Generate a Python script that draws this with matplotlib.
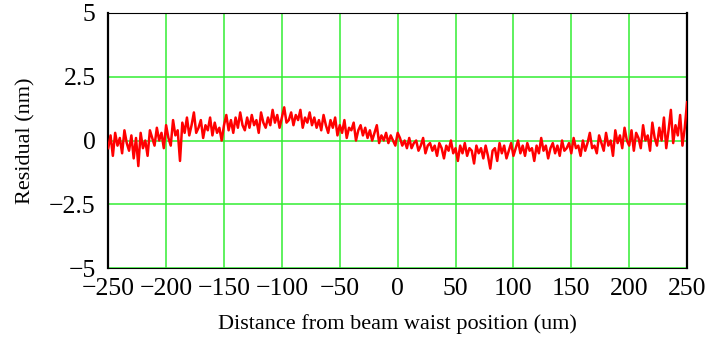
import matplotlib
matplotlib.use("Agg")
import matplotlib.pyplot as plt
import numpy as np

# Residual trace, one reading every 2 um from -250 to 250 um
position_um = np.arange(-250, 251, 2)
residual_nm = [
    -0.3, 0.2, -0.6, 0.3, -0.2, 0.1, -0.5, 0.4, -0.1, -0.4,
    0.2, -0.7, 0.1, -1.0, 0.3, -0.3, 0.0, -0.6, 0.4, 0.1,
    -0.2, 0.5, 0.0, 0.3, -0.3, 0.6, 0.1, -0.2, 0.8, 0.2,
    0.4, -0.8, 0.7, 0.3, 0.9, 0.2, 0.6, 1.1, 0.3, 0.5,
    0.8, 0.1, 0.6, 0.4, 0.9, 0.2, 0.7, 0.3, 0.5, 0.0,
    0.6, 1.0, 0.4, 0.8, 0.3, 0.9, 0.5, 1.1, 0.6, 0.4,
    0.9, 0.5, 1.0, 0.6, 0.8, 0.3, 1.1, 0.7, 0.5, 0.9,
    0.6, 1.2, 0.7, 1.0, 0.5, 0.9, 1.3, 0.7, 0.8, 1.1,
    0.6, 1.0, 0.8, 1.2, 0.5, 0.9, 0.7, 1.1, 0.6, 0.9,
    0.5, 0.8, 0.4, 1.0, 0.6, 0.3, 0.8, 0.5, 0.9, 0.2,
    0.6, 0.3, 0.8, 0.1, 0.5, 0.4, 0.7, 0.0, 0.4, 0.6,
    0.2, 0.5, 0.1, 0.4, 0.0, 0.3, 0.6, -0.1, 0.2, 0.0,
    0.3, -0.1, 0.2, 0.0, -0.2, 0.3, 0.1, -0.2, 0.0, -0.3,
    0.1, -0.3, -0.1, 0.0, -0.4, -0.2, 0.1, -0.5, -0.2, -0.1,
    -0.4, -0.2, -0.6, -0.1, -0.3, -0.7, -0.2, -0.4, 0.0, -0.5,
    -0.3, -0.8, -0.2, -0.5, -0.1, -0.6, -0.3, -0.4, -0.9, -0.2,
    -0.5, -0.3, -0.7, -0.2, -0.6, -1.1, -0.4, -0.3, -0.8, -0.1,
    -0.5, -0.2, -0.7, -0.4, -0.1, -0.6, -0.3, 0.0, -0.5, -0.2,
    -0.6, -0.1, -0.4, -0.3, -0.8, -0.2, -0.5, 0.1, -0.4, -0.2,
    -0.7, -0.3, -0.1, -0.5, -0.2, -0.6, 0.0, -0.4, -0.3, -0.1,
    -0.5, 0.1, -0.3, -0.2, -0.6, 0.0, -0.4, -0.1, 0.3, -0.3,
    -0.2, -0.5, 0.2, -0.1, -0.4, 0.3, -0.2, 0.0, -0.6, 0.4,
    -0.1, 0.2, -0.3, 0.5, 0.0, -0.2, 0.4, -0.4, 0.3, 0.1,
    -0.3, 0.6, 0.0, 0.2, -0.4, 0.7, 0.1, -0.2, 0.5, 0.0,
    0.9, -0.3, 0.4, 1.2, -0.1, 0.6, 0.2, 1.0, -0.2, 0.5,
    1.5,
]

x_ticks = [-250, -200, -150, -100, -50, 0, 50, 100, 150, 200, 250]
y_ticks = [-5, -2.5, 0, 2.5, 5]

plt.rcParams['font.family'] = ['Liberation Serif', 'DejaVu Serif']

fig = plt.figure(figsize=(7.12, 3.39), dpi=100)
ax = fig.add_axes([0.152, 0.209, 0.813, 0.753])

ax.plot(position_um, residual_nm, color='#ff0000', linewidth=1.8, zorder=3)

ax.set_xlim(-250, 250)
ax.set_ylim(-5, 5)
ax.set_xticks(x_ticks)
ax.set_yticks(y_ticks)
ax.set_yticklabels(['\u22125', '\u22122.5', '0', '2.5', '5'])
ax.set_xticklabels([str(t).replace('-', '\u2212') for t in x_ticks])
ax.tick_params(length=0, labelsize=18.5)
ax.tick_params(axis='x', pad=7)
ax.tick_params(axis='y', pad=9)

# bright green grid, behind the trace
ax.grid(True, color='#33ee33', linewidth=1.1)
ax.set_axisbelow(True)

for side in ['top', 'bottom']:
    ax.spines[side].set_color('black')
    ax.spines[side].set_linewidth(0.8)
for side in ['left', 'right']:
    ax.spines[side].set_color('black')
    ax.spines[side].set_linewidth(1.6)

ax.set_xlabel('Distance from beam waist position (um)', fontsize=16, labelpad=10)
ax.set_ylabel('Residual (nm)', fontsize=16, labelpad=10)

fig.savefig('out.png', dpi=100, facecolor='white')
